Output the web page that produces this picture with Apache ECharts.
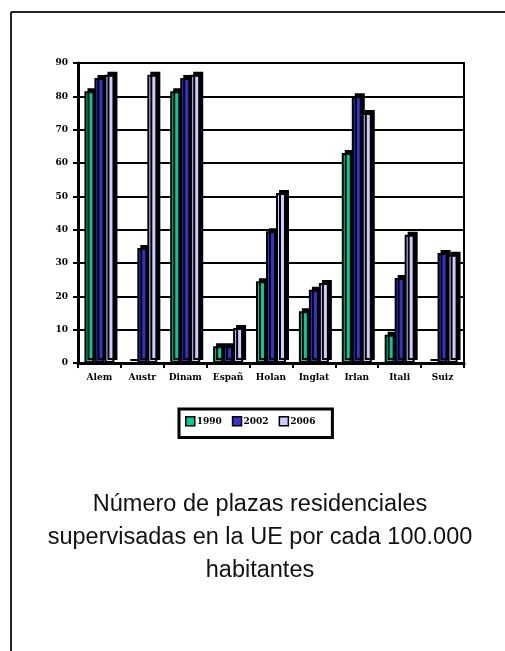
<!DOCTYPE html>
<html>
<head>
<meta charset="utf-8">
<script src="https://cdn.jsdelivr.net/npm/echarts@6/dist/echarts.min.js"></script>
<style>
  html, body { margin: 0; padding: 0; background: #fff; }
  #chart { width: 505px; height: 651px; }
</style>
</head>
<body>
<div id="chart"></div>
<script>
const categories = ['Alem', 'Austr', 'Dinam', 'Españ', 'Holan', 'Inglat', 'Irlan', 'Itali', 'Suiz']
const years = ['1990', '2002', '2006']
const values1990 = [81.5, 0, 81.5, 5, 24.5, 15.5, 63, 8.5, 0]
const values2002 = [85.5, 34.5, 85.5, 5, 39.5, 22, 80, 25.5, 33]
const values2006 = [86.5, 86.5, 86.5, 10.5, 51, 24, 75, 38.5, 32.5]
const yTicks = [0, 10, 20, 30, 40, 50, 60, 70, 80, 90]

const colors = ['#00cc99', '#3333cc', '#ccccff']
const labelFont = { fontFamily: 'DejaVu Serif', fontWeight: 'bold', fontSize: 9, color: '#000' }

const chart = echarts.init(document.getElementById('chart'))

function barSeries(name, data, color) {
  return {
    name: name,
    type: 'bar',
    data: data,
    barWidth: 10,
    barGap: '0%',
    itemStyle: {
      color: color,
      borderColor: '#000',
      borderWidth: 2,
      shadowColor: '#000',
      shadowBlur: 0,
      shadowOffsetX: 3,
      shadowOffsetY: -3
    }
  }
}

const option = {
  backgroundColor: '#fff',
  animation: false,
  title: {
    text: 'Número de plazas residenciales\nsupervisadas en la UE por cada 100.000\nhabitantes',
    left: 260,
    top: 488,
    padding: 0,
    textAlign: 'center',
    textStyle: {
      fontFamily: 'Liberation Sans',
      fontWeight: 'normal',
      fontSize: 23.5,
      lineHeight: 33,
      color: '#111'
    }
  },
  graphic: [
    { type: 'line', shape: { x1: 11, y1: 12, x2: 505, y2: 12 }, style: { stroke: '#222', lineWidth: 2 } },
    { type: 'line', shape: { x1: 11, y1: 12, x2: 11, y2: 651 }, style: { stroke: '#222', lineWidth: 2 } }
  ],
  legend: {
    data: years,
    left: 179,
    top: 409,
    padding: [7, 17, 11, 6],
    itemWidth: 9,
    itemHeight: 9,
    itemGap: 10,
    borderColor: '#000',
    borderWidth: 3,
    icon: 'rect',
    itemStyle: { borderColor: '#000', borderWidth: 1.5 },
    textStyle: Object.assign({}, labelFont, { padding: [0, 0, 0, -3] })
  },
  grid: {
    left: 78,
    right: 41,
    top: 63,
    bottom: 288,
    show: true,
    borderColor: '#000',
    borderWidth: 2
  },
  xAxis: {
    type: 'category',
    data: categories,
    axisLine: { lineStyle: { color: '#000', width: 3 } },
    axisTick: { show: true, length: 5, lineStyle: { color: '#000', width: 2 } },
    axisLabel: Object.assign({}, labelFont, { margin: 10, interval: 0 })
  },
  yAxis: {
    type: 'value',
    min: yTicks[0],
    max: yTicks[yTicks.length - 1],
    interval: 10,
    axisLine: { show: true, lineStyle: { color: '#000', width: 3 } },
    axisTick: { show: true, length: 5, lineStyle: { color: '#000', width: 2 } },
    axisLabel: Object.assign({}, labelFont, { margin: 10 }),
    splitLine: { lineStyle: { color: '#000', width: 2 } }
  },
  series: [
    barSeries(years[0], values1990, colors[0]),
    barSeries(years[1], values2002, colors[1]),
    barSeries(years[2], values2006, colors[2])
  ]
}

chart.setOption(option)
</script>
</body>
</html>
